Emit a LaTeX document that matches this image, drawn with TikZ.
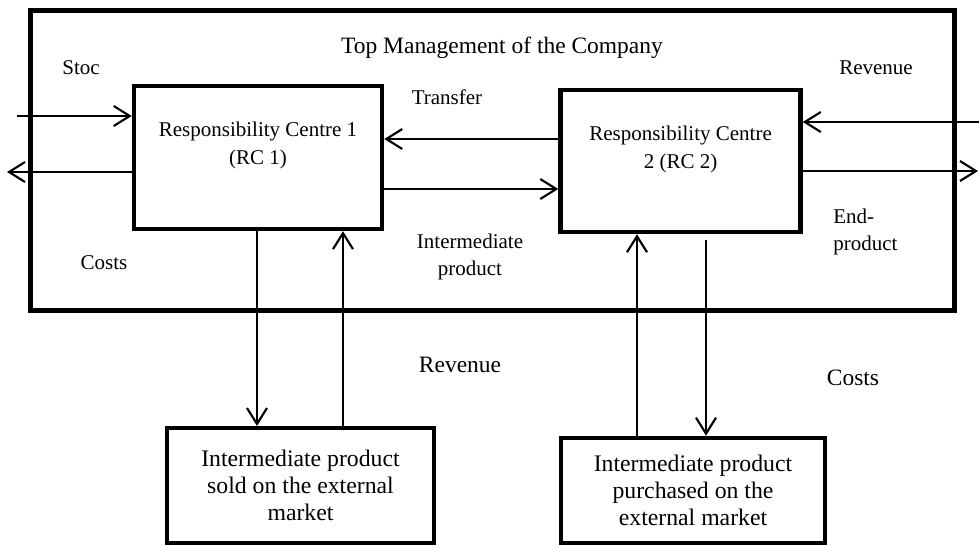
\documentclass[tikz,border=0pt]{standalone}
\usepackage{fontspec}
\setmainfont{Liberation Serif}
\usetikzlibrary{arrows.meta,positioning}

\begin{document}
\begin{tikzpicture}[
  x=0.75pt,y=-0.75pt,
  frame/.style={draw,line width=3.75pt,minimum width=693pt,minimum height=225pt},
  rcbox/.style={draw,line width=3.4pt,align=center,
    font=\fontsize{15.75}{21}\selectfont},
  mktbox/.style={draw,line width=3.2pt,align=center,
    font=\fontsize{17.8}{20.25}\selectfont},
  lbl/.style={font=\fontsize{15.75}{20.25}\selectfont,inner sep=0pt},
  biglbl/.style={font=\fontsize{17.6}{20.25}\selectfont,inner sep=0pt},
  arrow/.style={-{Straight Barb[length=12pt,width=15pt]},line width=1.6pt}
]
\useasboundingbox (0,0) rectangle (979,547);
% company frame
\node[frame] (company) at (492,160) {};
\node[biglbl] (title) at (502,48) {Top Management of the Company};
% responsibility centres
\node[rcbox,minimum width=186pt,minimum height=107pt] (rc1) at (258,157.5)
  {Responsibility Centre 1\\(RC 1)\\\mbox{}};
\node[rcbox,minimum width=180pt,minimum height=106.5pt,right=130.5pt of rc1,yshift=-2.6pt] (rc2)
  {Responsibility Centre\\2 (RC 2)\\\mbox{}};
% external market
\node[mktbox,minimum width=200pt,minimum height=86pt] (sold) at (300.5,485.5)
  {Intermediate product\\sold on the external\\market};
\node[mktbox,minimum width=198pt,minimum height=79pt] (bought) at (693,490.5)
  {Intermediate product\\purchased on the\\external market};

% free ends and levels
\coordinate (stocin) at (17,116);
\coordinate (costout) at (7,172);
\coordinate (revin) at (979,122);
\coordinate (endout) at (978,171);
\coordinate (trlev) at (470,139);
\coordinate (iplev) at (470,189);
\coordinate (x1) at (257,0);
\coordinate (x2) at (343,0);
\coordinate (x3) at (637,0);
\coordinate (x4) at (706,0);

\draw[arrow] (stocin) -- (rc1.west |- stocin);
\draw[arrow] (rc1.west |- costout) -- (costout);
\draw[arrow] (rc2.west |- trlev) -- (rc1.east |- trlev);
\draw[arrow] (rc1.east |- iplev) -- (rc2.west |- iplev);
\draw[arrow] (revin) -- (rc2.east |- revin);
\draw[arrow] (rc2.east |- endout) -- (endout);
\draw[arrow] (rc1.south -| x1) -- (sold.north -| x1);
\draw[arrow] (sold.north -| x2) -- (rc1.south -| x2);
\draw[arrow] (bought.north -| x3) -- (rc2.south -| x3);
\draw[arrow,shorten <=4pt] (rc2.south -| x4) -- (bought.north -| x4);

% flow labels
\node[lbl] (stoc) at (81,68) {Stoc};
\node[lbl] (transfer) at (447,97) {Transfer};
\node[lbl] (costsin) at (104,263) {Costs};
\node[lbl,align=center] (interm) at (470,257) {Intermediate\\product};
\node[lbl] (revout) at (876,68) {Revenue};
\node[lbl,align=left,anchor=west] (endprod) at (833,232) {End-\\product};
\node[biglbl] (revext) at (460,365) {Revenue};
\node[biglbl] (costsext) at (853,378) {Costs};
\end{tikzpicture}
\end{document}
